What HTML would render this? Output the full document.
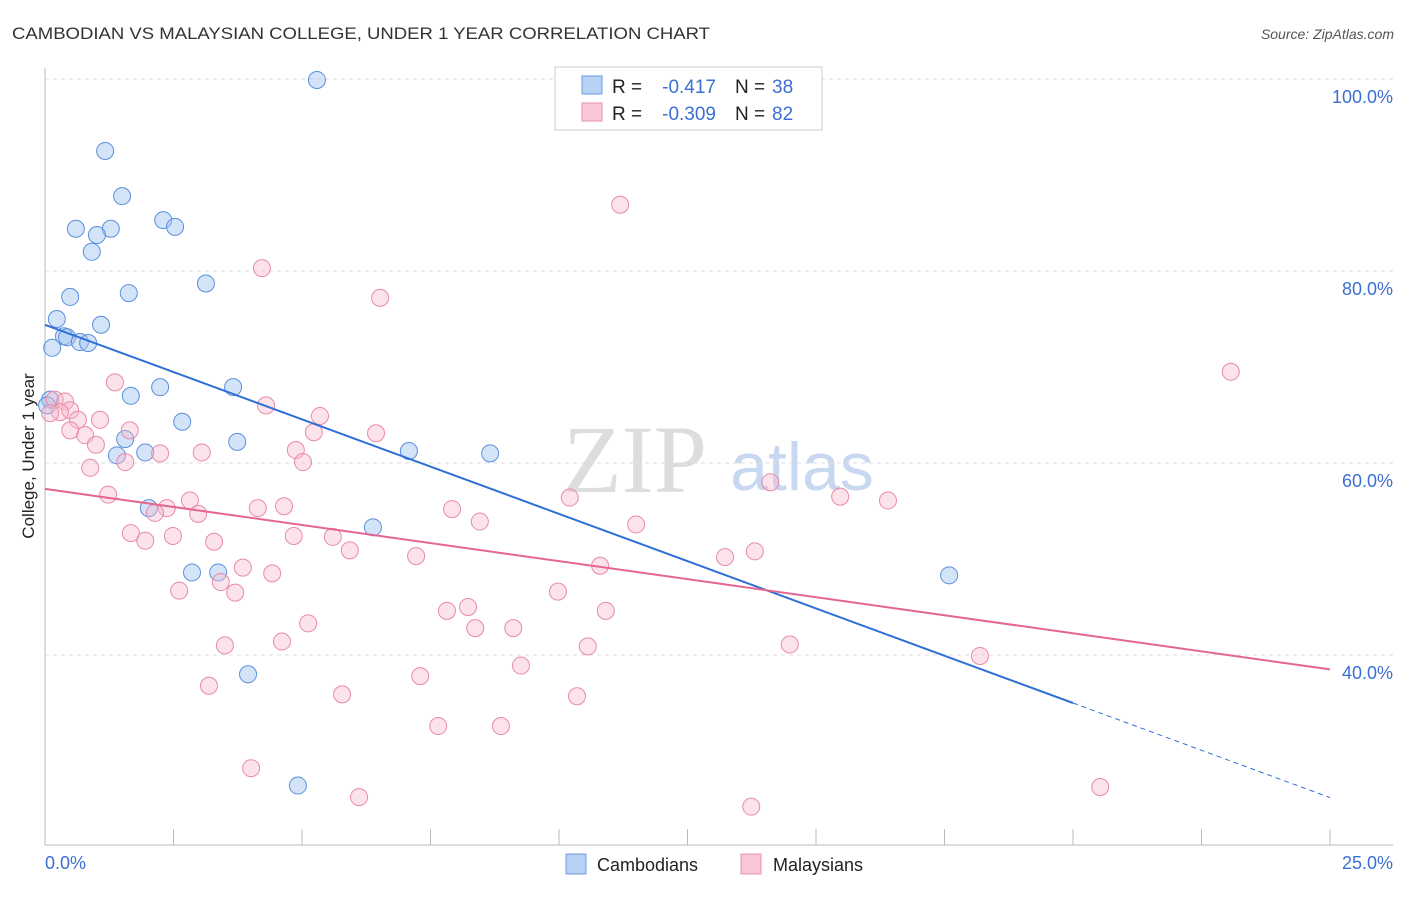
<!DOCTYPE html>
<html><head><meta charset="utf-8"><style>
body{margin:0;background:#fff;font-family:"Liberation Sans",sans-serif}
svg text{font-family:"Liberation Sans",sans-serif}
</style></head><body>
<svg id="c" width="1406" height="892" xmlns="http://www.w3.org/2000/svg">
<text x="12" y="39" font-size="17" fill="#333" textLength="698" lengthAdjust="spacingAndGlyphs">CAMBODIAN VS MALAYSIAN COLLEGE, UNDER 1 YEAR CORRELATION CHART</text>
<text x="1394" y="39" font-size="14" fill="#555" font-style="italic" text-anchor="end">Source: ZipAtlas.com</text>
<g>
<text x="635" y="492" font-size="96" fill="#ddd" text-anchor="middle" style="font-family:'Liberation Serif',serif">ZIP</text>
<text x="802" y="490" font-size="68" fill="#c8d8f0" text-anchor="middle">atlas</text>
</g>
<g id="grid"></g>
<line x1="45" y1="68" x2="45" y2="845" stroke="#bbb"/>
<line x1="45" y1="845" x2="1393" y2="845" stroke="#bbb"/>
<g id="ticks"></g>
<g id="pts"></g>
<g id="lines"></g>
<text transform="translate(34,456) rotate(-90)" font-size="17" fill="#222" text-anchor="middle">College, Under 1 year</text>
<text x="45" y="869" font-size="18" fill="#3b6fd4">0.0%</text>
<text x="1393" y="869" font-size="18" fill="#3b6fd4" text-anchor="end">25.0%</text>
<g>
<rect x="555" y="67" width="267" height="63" fill="#fff" stroke="#ccc"/>
<rect x="582" y="76" width="20" height="18" fill="#b8d2f5" stroke="#6a9ae0"/>
<rect x="582" y="103" width="20" height="18" fill="#f9c6d6" stroke="#e892ae"/>
<text x="612" y="93" font-size="19" fill="#222">R =</text>
<text x="716" y="93" font-size="19" fill="#3b6fd4" text-anchor="end">-0.417</text>
<text x="735" y="93" font-size="19" fill="#222">N =</text>
<text x="772" y="93" font-size="19" fill="#3b6fd4">38</text>
<text x="612" y="120" font-size="19" fill="#222">R =</text>
<text x="716" y="120" font-size="19" fill="#3b6fd4" text-anchor="end">-0.309</text>
<text x="735" y="120" font-size="19" fill="#222">N =</text>
<text x="772" y="120" font-size="19" fill="#3b6fd4">82</text>
</g>
<g>
<rect x="566" y="854" width="20" height="20" fill="#b8d2f5" stroke="#6a9ae0"/>
<text x="597" y="871" font-size="18" fill="#222">Cambodians</text>
<rect x="741" y="854" width="20" height="20" fill="#f9c6d6" stroke="#e892ae"/>
<text x="773" y="871" font-size="18" fill="#222">Malaysians</text>
</g>
</svg>
<script>
const yTicks=[100,80,60,40];
const yTickLabels=["100.0%","80.0%","60.0%","40.0%"];
const xTicks=[0,2.5,5,7.5,10,12.5,15,17.5,20,22.5,25];
const camX=[5.29,1.17,1.5,2.3,2.53,0.6,1.28,1.01,0.91,3.13,0.49,1.63,0.23,1.09,0.37,0.43,0.68,0.84,0.14,2.24,3.66,1.67,2.67,1.56,3.74,1.95,1.4,7.08,8.66,2.02,6.38,2.86,3.37,17.59,3.95,4.92,0.1,0.04];
const camY=[99.9,92.5,87.8,85.3,84.6,84.4,84.4,83.75,82,78.7,77.3,77.7,75,74.4,73.2,73.1,72.6,72.5,72,67.9,67.9,67,64.3,62.5,62.2,61.1,60.8,61.25,61,55.3,53.3,48.6,48.6,48.3,38,26.4,66.6,66];
const malX=[11.19,4.22,6.52,23.07,1.36,0.19,0.39,0.49,0.29,0.1,0.64,4.3,5.35,1.07,0.78,0.99,1.65,2.24,1.56,3.05,4.88,5.02,0.88,5.23,6.44,1.23,2.82,2.37,2.14,2.98,4.14,4.65,7.92,8.46,10.21,11.5,15.47,16.4,14.11,1.67,1.95,2.49,3.29,4.84,5.6,5.93,7.22,10.8,13.23,13.81,3.85,4.42,3.42,2.61,3.7,9.98,7.82,8.23,10.91,8.37,9.11,5.12,4.61,3.5,10.56,14.49,18.19,9.26,7.3,3.19,5.78,10.35,7.65,8.87,4.01,6.11,13.74,20.53,0.49];
const malY=[86.9,80.3,77.2,69.5,68.4,66.6,66.4,65.5,65.3,65.2,64.5,66,64.9,64.5,62.9,61.9,63.4,61,60.1,61.1,61.35,60.1,59.5,63.2,63.1,56.7,56.1,55.3,54.8,54.7,55.3,55.5,55.2,53.9,56.4,53.6,56.5,56.1,58,52.7,51.9,52.4,51.8,52.4,52.3,50.9,50.3,49.3,50.2,50.8,49.1,48.5,47.6,46.7,46.5,46.6,44.6,45,44.6,42.8,42.8,43.3,41.4,41,40.9,41.1,39.9,38.9,37.8,36.8,35.9,35.7,32.6,32.6,28.2,25.2,24.2,26.25,63.4];
const camLine=[74.4,35.0];
const malLine=[57.3,38.5];
const NS="http://www.w3.org/2000/svg";
const xs=v=>45+v*51.4, ys=v=>79+(100-v)*9.6;
function mk(t,a,p){const e=document.createElementNS(NS,t);for(const k in a)e.setAttribute(k,a[k]);document.getElementById(p).appendChild(e);return e;}
yTicks.forEach((v,i)=>{
 const l=mk('line',{x1:45,x2:1393,y1:ys(v),y2:ys(v),stroke:'#ddd','stroke-dasharray':'4,4'},'grid');
 
 
 const t=mk('text',{x:1393,y:ys(v)+24,'font-size':18,fill:'#3b6fd4','text-anchor':'end'},'grid');
 t.textContent=yTickLabels[i];
 
 
});
xTicks.forEach(v=>{
 const l=mk('line',{x1:xs(v),x2:xs(v),y1:829,y2:845,stroke:'#bbb'},'ticks');
 
 
});
camX.forEach((x,i)=>{
 const c=mk('circle',{cx:xs(x),cy:ys(camY[i]),r:8.5,fill:'rgba(160,196,240,0.45)',stroke:'#5b8fdc','stroke-width':1},'pts');
 
 
});
malX.forEach((x,i)=>{
 const c=mk('circle',{cx:xs(x),cy:ys(malY[i]),r:8.5,fill:'rgba(248,185,205,0.4)',stroke:'#e88aa8','stroke-width':1},'pts');
 
 
});
const slopeC=(camLine[1]-camLine[0])/20;
let l1=mk('line',{x1:xs(0),y1:ys(camLine[0]),x2:xs(20),y2:ys(camLine[1]),stroke:'#2f6fd6','stroke-width':2},'lines');


let l2=mk('line',{x1:xs(20),y1:ys(camLine[1]),x2:xs(25),y2:ys(camLine[0]+slopeC*25),stroke:'#2f6fd6','stroke-width':1,'stroke-dasharray':'5,4'},'lines');


let l3=mk('line',{x1:xs(0),y1:ys(malLine[0]),x2:xs(25),y2:ys(malLine[1]),stroke:'#e46592','stroke-width':2},'lines');


</script>
</body></html>
